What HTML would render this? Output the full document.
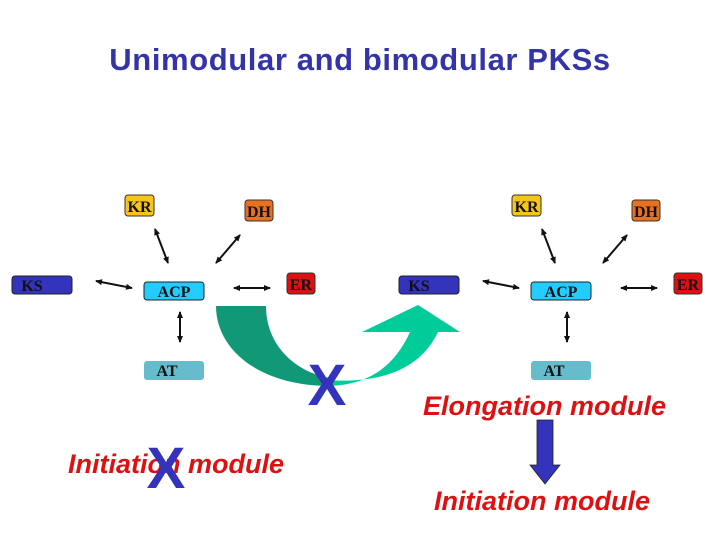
<!DOCTYPE html>
<html><head><meta charset="utf-8"><style>
body{margin:0;background:#fff}
svg{display:block}
.b{font-family:"Liberation Serif",serif;font-weight:bold;font-size:16px;fill:#111}
.r{font-family:"Liberation Sans",sans-serif;font-weight:bold;font-style:italic;font-size:27px;fill:#dd1111}
</style></head><body>
<svg width="720" height="540" viewBox="0 0 720 540">
<defs><marker id="a" markerWidth="8" markerHeight="8" refX="6" refY="4" orient="auto-start-reverse" markerUnits="userSpaceOnUse"><path d="M0,1 L7,4 L0,7Z" fill="#111"/></marker></defs>
<text x="360" y="70" text-anchor="middle" font-family="Liberation Sans,sans-serif" font-weight="bold" font-size="31" letter-spacing="0.6" fill="#3333aa">Unimodular and bimodular PKSs</text>
<path d="M216,306 C216,350 260,386 330,386 L330,378 C295,372 266,345 266,306 Z" fill="#119977"/>
<path d="M325,386 C370,386 395,365 410,332 L362,332 L418,305 L460,332 L438,332 C420,370 380,384 325,380 Z" fill="#00cc99"/>
<g id="m">
<rect x="125" y="195" width="29" height="21" rx="3" fill="#f5c518" stroke="#333"/><text class="b" x="139.5" y="212" text-anchor="middle">KR</text>
<rect x="245" y="200" width="28" height="21" rx="3" fill="#e87020" stroke="#333"/><text class="b" x="259" y="217" text-anchor="middle">DH</text>
<rect x="12" y="276" width="60" height="18" rx="3" fill="#3333bb" stroke="#222"/><text class="b" x="32" y="291" text-anchor="middle">KS</text>
<rect x="144" y="282" width="60" height="18" rx="3" fill="#22ccff" stroke="#222"/><text class="b" x="174" y="297" text-anchor="middle">ACP</text>
<rect x="287" y="273" width="28" height="21" rx="3" fill="#dd1111" stroke="#333"/><text class="b" x="301" y="290" text-anchor="middle">ER</text>
<rect x="144" y="361" width="60" height="19" rx="3" fill="#66bbcc"/><text class="b" x="167" y="376" text-anchor="middle">AT</text>
<g stroke="#111" stroke-width="2" marker-start="url(#a)" marker-end="url(#a)">
<line x1="155" y1="229" x2="168" y2="263"/>
<line x1="240" y1="235" x2="216" y2="263"/>
<line x1="96" y1="281" x2="132" y2="288"/>
<line x1="234" y1="288" x2="270" y2="288"/>
<line x1="180" y1="312" x2="180" y2="342"/>
</g></g>
<use href="#m" x="387"/>
<text x="327" y="405" text-anchor="middle" font-family="Liberation Sans,sans-serif" font-weight="bold" font-size="58" fill="#3333bb">X</text>
<text class="r" x="423" y="415">Elongation module</text>
<text class="r" x="68" y="473">Initiation module</text>
<text x="166" y="488" text-anchor="middle" font-family="Liberation Sans,sans-serif" font-weight="bold" font-size="58" fill="#3333bb">X</text>
<text class="r" x="434" y="510">Initiation module</text>
<path d="M537,420 H553 V465 H560 L545,484 L530,465 H537 Z" fill="#3333bb" stroke="#222" stroke-width="0.8"/>
</svg>
</body></html>
